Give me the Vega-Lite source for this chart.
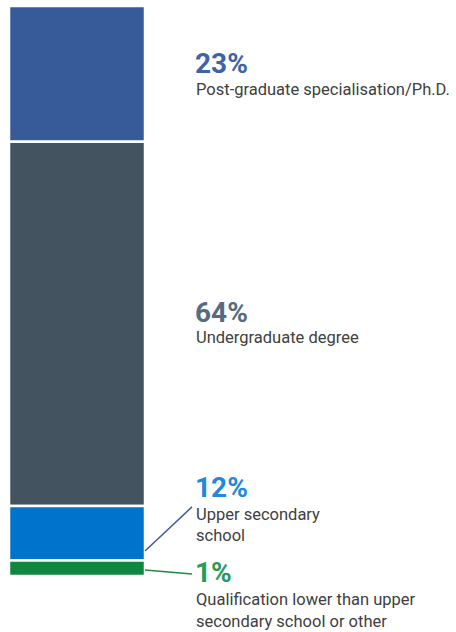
{
  "$schema": "https://vega.github.io/schema/vega-lite/v6.json",
  "width": 136,
  "height": 570,
  "autosize": {"type": "none"},
  "padding": {"left": 9, "top": 6, "right": 311, "bottom": 56},
  "background": "white",
  "config": {"view": {"stroke": null}, "text": {"font": "Roboto, sans-serif"}},
  "data": {
    "values": [
      {"key": "phd", "order": 4, "share": 23.8, "pct": "23%", "desc": "Post-graduate specialisation/Ph.D."},
      {"key": "ug", "order": 3, "share": 63.9, "pct": "64%", "desc": "Undergraduate degree"},
      {"key": "us", "order": 2, "share": 9.6, "pct": "12%", "desc": "Upper secondary\nschool"},
      {"key": "low", "order": 1, "share": 2.7, "pct": "1%", "desc": "Qualification lower than upper\nsecondary school or other"}
    ]
  },
  "transform": [
    {"stack": "share", "groupby": [], "sort": [{"field": "order", "order": "ascending"}], "as": ["v0", "v1"]}
  ],
  "encoding": {
    "y": {"field": "v0", "type": "quantitative", "scale": {"domain": [0, 100], "nice": false}, "axis": null},
    "y2": {"field": "v1"}
  },
  "layer": [
    {
      "mark": {"type": "bar", "stroke": "white", "strokeWidth": 2.5},
      "encoding": {
        "x": {"datum": 0, "type": "quantitative", "scale": {"domain": [0, 1], "nice": false}, "axis": null},
        "x2": {"datum": 1},
        "color": {"field": "key", "type": "nominal", "legend": null,
          "scale": {"domain": ["phd", "ug", "us", "low"], "range": ["#365b98", "#435360", "#0073cc", "#11863f"]}}
      }
    },
    {
      "transform": [{"filter": "datum.key === 'us'"}],
      "mark": {"type": "rule", "color": "#3a5a9a", "strokeWidth": 1.5, "yOffset": -9.6, "y2Offset": 1, "x2Offset": 47},
      "encoding": {"x": {"datum": 1, "type": "quantitative"}, "x2": {"datum": 1}}
    },
    {
      "transform": [{"filter": "datum.key === 'low'"}],
      "mark": {"type": "rule", "color": "#1f8a46", "strokeWidth": 1.5, "yOffset": -6, "y2Offset": 13.4, "x2Offset": 47},
      "encoding": {"x": {"datum": 1, "type": "quantitative"}, "x2": {"datum": 1}}
    },
    {
      "transform": [{"filter": "datum.key === 'phd'"}],
      "mark": {"type": "text", "align": "left", "baseline": "alphabetic", "fontSize": 28, "fontWeight": "bold", "color": "#3d64a6", "dx": 50, "dy": 67},
      "encoding": {"x": {"datum": 1, "type": "quantitative"}, "y": {"field": "v1", "type": "quantitative"}, "y2": null, "text": {"field": "pct"}}
    },
    {
      "transform": [{"filter": "datum.key === 'phd'"}],
      "mark": {"type": "text", "align": "left", "baseline": "alphabetic", "fontSize": 16.5, "color": "#404040", "dx": 51, "dy": 89, "lineBreak": "\n", "lineHeight": 21.5},
      "encoding": {"x": {"datum": 1, "type": "quantitative"}, "y": {"field": "v1", "type": "quantitative"}, "y2": null, "text": {"field": "desc"}}
    },
    {
      "transform": [{"filter": "datum.key === 'ug'"}],
      "mark": {"type": "text", "align": "left", "baseline": "alphabetic", "fontSize": 28, "fontWeight": "bold", "color": "#566b80", "dx": 50, "dy": 180},
      "encoding": {"x": {"datum": 1, "type": "quantitative"}, "y": {"field": "v1", "type": "quantitative"}, "y2": null, "text": {"field": "pct"}}
    },
    {
      "transform": [{"filter": "datum.key === 'ug'"}],
      "mark": {"type": "text", "align": "left", "baseline": "alphabetic", "fontSize": 16.5, "color": "#404040", "dx": 51, "dy": 201, "lineBreak": "\n", "lineHeight": 21.5},
      "encoding": {"x": {"datum": 1, "type": "quantitative"}, "y": {"field": "v1", "type": "quantitative"}, "y2": null, "text": {"field": "desc"}}
    },
    {
      "transform": [{"filter": "datum.key === 'us'"}],
      "mark": {"type": "text", "align": "left", "baseline": "alphabetic", "fontSize": 28, "fontWeight": "bold", "color": "#2288dd", "dx": 50, "dy": -9},
      "encoding": {"x": {"datum": 1, "type": "quantitative"}, "y": {"field": "v1", "type": "quantitative"}, "y2": null, "text": {"field": "pct"}}
    },
    {
      "transform": [{"filter": "datum.key === 'us'"}],
      "mark": {"type": "text", "align": "left", "baseline": "alphabetic", "fontSize": 16.5, "color": "#404040", "dx": 51, "dy": 14, "lineBreak": "\n", "lineHeight": 21.5},
      "encoding": {"x": {"datum": 1, "type": "quantitative"}, "y": {"field": "v1", "type": "quantitative"}, "y2": null, "text": {"field": "desc"}}
    },
    {
      "transform": [{"filter": "datum.key === 'low'"}],
      "mark": {"type": "text", "align": "left", "baseline": "alphabetic", "fontSize": 28, "fontWeight": "bold", "color": "#2a9a58", "dx": 50, "dy": 21.4},
      "encoding": {"x": {"datum": 1, "type": "quantitative"}, "y": {"field": "v1", "type": "quantitative"}, "y2": null, "text": {"field": "pct"}}
    },
    {
      "transform": [{"filter": "datum.key === 'low'"}],
      "mark": {"type": "text", "align": "left", "baseline": "alphabetic", "fontSize": 16.5, "color": "#404040", "dx": 51, "dy": 44.4, "lineBreak": "\n", "lineHeight": 21.5},
      "encoding": {"x": {"datum": 1, "type": "quantitative"}, "y": {"field": "v1", "type": "quantitative"}, "y2": null, "text": {"field": "desc"}}
    }
  ]
}
